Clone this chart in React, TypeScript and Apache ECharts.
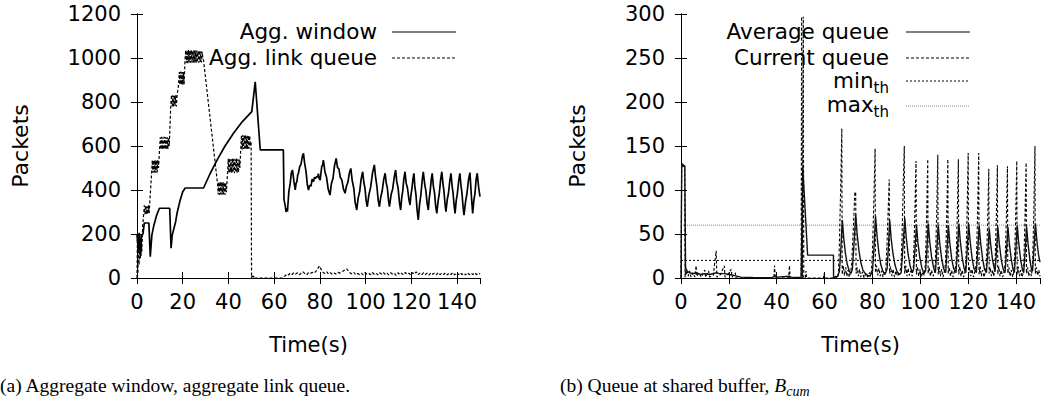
import React, { useEffect, useRef } from 'react';
import * as echarts from 'echarts';

// ---------- Data ----------
const xTicksMax = 150;
const leftYMax = 1200;
const rightYMax = 300;

// (a) Aggregate window, packets vs time (s)
const aggWindow: [number, number][] = [
  [0, 200], [0.6, 120], [1.0, 205], [1.6, 100], [2.0, 195], [2.6, 200], [3.2, 250], [5.2, 250], [5.8, 97],
  [6.5, 195], [7.4, 240], [8.6, 286], [9.8, 317], [14.3, 317], [14.9, 135], [15.4, 195], [16.9, 256],
  [17.5, 294], [18.9, 355], [20.0, 392], [21.1, 409], [29.1, 409], [32, 475], [35, 536], [38.5, 600],
  [42.2, 658], [46, 710], [50.2, 756], [51.7, 892], [53.9, 582], [64.0, 582], [64.3, 355], [64.8, 330],
  [65.2, 300], [65.5, 318], [65.8, 302], [66.4, 392], [67.0, 430], [67.5, 478], [68.0, 491], [68.6, 442],
  [69.2, 400], [69.6, 432], [69.9, 436], [70.3, 470], [70.6, 476], [71.2, 508], [71.7, 515], [72.3, 552],
  [72.8, 567], [73.3, 522], [73.9, 486], [74.5, 424], [75.0, 400], [75.5, 421], [76.1, 418], [76.6, 449],
  [77.2, 438], [77.6, 458], [78.0, 452], [78.6, 462], [79.0, 458], [79.3, 474], [79.7, 452], [80.1, 445],
  [80.8, 508], [81.2, 514], [81.5, 536], [82.2, 482], [82.9, 458], [83.6, 404], [84.4, 377], [85.0, 428],
  [85.7, 452], [86.4, 512], [87.1, 544], [87.7, 502], [88.3, 496], [88.9, 458], [89.6, 445], [90.3, 404],
  [91.0, 385], [91.6, 418], [92.2, 434], [92.9, 478], [93.5, 498], [94.1, 444], [94.8, 408], [95.4, 344],
  [96.1, 309], [96.7, 362], [97.4, 394], [98.0, 448], [98.7, 483], [99.2, 434], [99.7, 408], [100.2, 352],
  [100.7, 324], [101.4, 378], [102.2, 414], [103.0, 478], [103.8, 514], [104.3, 462], [104.9, 418],
  [105.5, 352], [106.0, 324], [106.6, 368], [107.2, 394], [107.9, 448], [108.5, 476], [109.0, 432],
  [109.5, 408], [110.0, 352], [110.4, 324], [111.1, 378], [111.8, 404], [112.5, 458], [113.1, 491],
  [113.6, 438], [114.2, 408], [114.8, 342], [115.3, 309], [115.8, 368], [116.2, 394], [116.7, 452],
  [117.2, 483], [117.7, 432], [118.3, 408], [118.9, 358], [119.4, 332], [119.8, 378], [120.2, 404],
  [120.7, 452], [121.1, 476], [121.5, 418], [122.0, 378], [122.5, 308], [123.0, 264], [123.6, 338],
  [124.1, 374], [124.7, 442], [125.2, 483], [125.8, 428], [126.3, 398], [126.9, 338], [127.4, 309],
  [127.8, 362], [128.2, 394], [128.7, 448], [129.1, 476], [129.6, 418], [130.1, 388], [130.6, 328],
  [131.1, 294], [131.7, 352], [132.2, 384], [132.8, 448], [133.3, 483], [133.8, 428], [134.2, 398],
  [134.7, 338], [135.1, 301], [135.7, 358], [136.2, 384], [136.8, 442], [137.3, 476], [137.8, 418],
  [138.2, 388], [138.7, 328], [139.1, 294], [139.6, 352], [140.1, 384], [140.7, 442], [141.2, 476],
  [141.7, 418], [142.1, 388], [142.6, 322], [143.0, 286], [143.7, 348], [144.3, 384], [145.0, 448],
  [145.6, 479], [146.2, 378], [146.8, 294], [147.3, 352], [147.8, 384], [148.3, 448], [148.8, 476],
  [149.4, 412], [150, 370],
];

// (a) Aggregate link queue, packets vs time (s)
const aggLinkQueue: [number, number][] = [
  [0, 0], [0.2, 190], [0.4, 20], [0.6, 200], [0.9, 60], [1.2, 195], [1.5, 90], [1.8, 180], [2.1, 120],
  [2.5, 240], [3.0, 300], [3.2, 330], [3.5, 290], [3.8, 330], [4.1, 290], [4.4, 325], [4.7, 290], [5.0, 330],
  [5.3, 295], [6.4, 480], [6.7, 536], [7.0, 478], [7.3, 535], [7.6, 480], [7.9, 536], [8.2, 478], [8.5, 535],
  [8.8, 480], [9.1, 536], [9.4, 500], [9.9, 590], [10.2, 640], [10.5, 584], [10.8, 642], [11.1, 585],
  [11.4, 640], [11.7, 584], [12.0, 642], [12.3, 585], [12.6, 640], [12.9, 584], [13.2, 640], [13.5, 586],
  [13.8, 638], [14.1, 600], [14.8, 790], [15.1, 832], [15.4, 780], [15.7, 830], [16.0, 780], [16.3, 832],
  [16.6, 782], [16.9, 830], [17.2, 780], [17.5, 828], [18.2, 880], [18.5, 936], [18.8, 878], [19.1, 938],
  [19.4, 880], [19.7, 936], [20.0, 878], [20.3, 936], [20.6, 880], [21.0, 990], [21.3, 1036], [21.6, 978],
  [21.9, 1034], [22.2, 976], [22.5, 1036], [22.8, 980], [23.1, 1034], [23.4, 978], [23.7, 1036], [24.0, 980],
  [24.3, 1032], [24.6, 978], [24.9, 1036], [25.2, 980], [25.5, 1034], [25.8, 978], [26.1, 1034], [26.4, 980],
  [26.7, 1030], [27.0, 978], [27.3, 1034], [27.6, 982], [27.9, 1030], [28.2, 980], [28.5, 1028], [28.8, 1000],
  [29.1, 990], [35.2, 430], [35.5, 380], [35.8, 436], [36.1, 378], [36.4, 438], [36.7, 380], [37.0, 436],
  [37.3, 378], [37.6, 436], [37.9, 380], [38.2, 434], [38.5, 378], [38.8, 430], [39.1, 390], [39.6, 480],
  [39.9, 542], [40.2, 478], [40.5, 544], [40.8, 480], [41.1, 540], [41.4, 478], [41.7, 544], [42.0, 480],
  [42.3, 542], [42.6, 476], [42.9, 540], [43.2, 480], [43.5, 544], [43.8, 478], [44.1, 540], [44.4, 480],
  [44.7, 538], [45.0, 500], [45.4, 590], [45.7, 648], [46.0, 584], [46.3, 650], [46.6, 586], [46.9, 648],
  [47.2, 584], [47.5, 650], [47.8, 586], [48.1, 646], [48.4, 584], [48.7, 648], [49.0, 588], [49.3, 646],
  [49.6, 600], [49.9, 620], [50.1, 0], [50.4, 15], [50.8, 4], [51.2, 10], [51.6, 0], [55, 0], [60, 0],
  [63.5, 0], [64.8, 10], [65.5, 18], [66.3, 14], [67.0, 22], [67.8, 16], [68.6, 25], [69.4, 18], [70.2, 24],
  [71.0, 15], [71.8, 22], [72.6, 28], [73.4, 20], [74.2, 14], [75.0, 24], [75.8, 20], [76.6, 26], [77.4, 22],
  [78.2, 30], [78.8, 38], [79.8, 55], [80.6, 38], [81.4, 25], [82.2, 20], [83.0, 28], [83.8, 18], [84.6, 24],
  [85.4, 16], [86.2, 22], [87.0, 18], [87.8, 26], [88.6, 22], [89.4, 28], [90.2, 32], [91.0, 38], [91.7, 42],
  [92.5, 30], [93.3, 22], [94.1, 18], [94.9, 25], [95.7, 14], [96.5, 20], [97.3, 16], [98.1, 22], [98.9, 14],
  [99.7, 24], [100.5, 18], [101.3, 22], [102.1, 15], [102.9, 25], [103.7, 17], [104.5, 22], [105.3, 14],
  [106.1, 24], [106.9, 18], [107.7, 26], [108.5, 16], [109.3, 22], [110.1, 14], [110.9, 24], [111.7, 18],
  [112.5, 22], [113.3, 12], [114.1, 24], [114.9, 16], [115.7, 22], [116.5, 14], [117.3, 25], [118.1, 17],
  [118.9, 22], [119.7, 13], [120.5, 24], [121.3, 18], [122.1, 28], [122.9, 15], [123.7, 22], [124.5, 14],
  [125.3, 24], [126.1, 16], [126.9, 22], [127.7, 13], [128.5, 24], [129.3, 17], [130.1, 22], [130.9, 14],
  [131.7, 24], [132.5, 15], [133.3, 22], [134.1, 16], [134.9, 24], [135.7, 14], [136.5, 22], [137.3, 16],
  [138.1, 25], [138.9, 14], [139.7, 22], [140.5, 15], [141.3, 24], [142.1, 16], [142.9, 22], [143.7, 14],
  [144.5, 24], [145.3, 15], [146.1, 22], [146.9, 16], [147.7, 24], [148.5, 15], [149.3, 22], [150, 18],
];

// (b) Average queue at shared buffer
const averageQueue: [number, number][] = [
  [0, 0], [0.3, 130], [1.6, 127], [1.9, 12], [2.5, 8], [3.5, 6], [5, 5], [6.5, 6], [8, 4], [10, 5], [12, 4],
  [14.8, 6], [16, 5], [18.2, 5], [20, 4], [22, 3], [25, 1], [30, 0.5], [38, 0.3], [39.2, 2], [40, 1],
  [45.4, 2], [46, 1], [49, 0.5], [50.2, 0.5], [50.9, 125], [52.9, 26], [63.7, 26], [63.75, 0], [64.5, 1],
  [65.5, 2], [66.2, 8], [66.7, 28], [67.4, 66], [68.0, 45], [68.7, 28], [69.5, 15], [70.3, 8], [71.0, 5],
  [71.6, 10], [72.2, 35], [73.0, 72], [73.6, 50], [74.4, 30], [75.2, 17], [76.0, 9], [77.0, 5], [78.0, 3],
  [79.0, 2], [80.0, 8], [80.6, 32], [81.3, 70], [81.9, 48], [82.7, 28], [83.5, 15], [84.3, 8], [85.2, 4],
  [86.1, 10], [86.6, 32], [87.2, 66], [87.8, 45], [88.6, 27], [89.4, 15], [90.3, 7], [91.3, 4], [92.0, 6],
  [92.6, 30], [93.5, 68], [94.1, 46], [94.9, 27], [95.7, 14], [96.6, 6], [97.2, 10], [97.7, 30], [98.4, 60],
  [99.0, 40], [99.8, 23], [100.6, 12], [101.5, 5], [102.2, 8], [102.7, 30], [103.3, 62], [103.9, 42],
  [104.7, 24], [105.5, 12], [106.3, 6], [106.8, 28], [107.5, 60], [108.1, 40], [108.9, 22], [109.7, 11],
  [110.6, 6], [111.0, 25], [111.7, 60], [112.3, 40], [113.1, 22], [113.9, 11], [114.9, 6], [115.4, 27],
  [116.1, 62], [116.7, 42], [117.5, 23], [118.3, 11], [119.0, 6], [119.5, 28], [120.2, 62], [120.8, 42],
  [121.6, 23], [122.4, 11], [123.4, 6], [123.9, 28], [124.6, 60], [125.2, 40], [126.0, 22], [126.8, 10],
  [127.6, 6], [128.1, 25], [128.8, 56], [129.4, 38], [130.2, 20], [131.2, 7], [131.7, 25], [132.4, 58],
  [133.0, 39], [133.8, 21], [134.6, 10], [135.4, 6], [135.9, 26], [136.6, 58], [137.2, 39], [138.0, 21],
  [138.8, 9], [139.3, 6], [139.8, 27], [140.5, 60], [141.1, 40], [141.9, 21], [142.7, 9], [143.2, 6],
  [143.7, 26], [144.4, 58], [145.0, 39], [145.8, 20], [146.5, 9], [146.9, 8], [147.4, 30], [148.1, 62],
  [148.7, 42], [149.4, 26], [150, 18],
];

// (b) Current queue at shared buffer
const currentQueue: [number, number][] = [
  [0, 0], [0.3, 128], [0.6, 130], [1.0, 125], [1.5, 128], [1.7, 0], [1.8, 24], [2.0, 3], [2.5, 9], [3.0, 2],
  [3.6, 8], [4.2, 1], [5.0, 6], [5.8, 1], [6.3, 14], [6.6, 2], [7.5, 6], [8.5, 1], [9.9, 9], [10.3, 1],
  [11.5, 8], [12.0, 1], [13.5, 3], [14.7, 31], [15.0, 1], [16.5, 4], [18.1, 14], [18.4, 1], [19.5, 4],
  [21.0, 10], [21.3, 1], [22.7, 6], [23.0, 0], [30, 0], [38.8, 0], [39.1, 14], [39.4, 0], [45.0, 0],
  [45.3, 14], [45.6, 0], [50.2, 0], [50.4, 297], [50.7, 0], [51.1, 297], [51.3, 0], [52.0, 0], [52.2, 8],
  [52.5, 0], [59.5, 0], [59.8, 5], [60.1, 0], [63.7, 0], [64.5, 2], [65.3, 0], [65.8, 6], [66.2, 40],
  [66.7, 100], [67.2, 170], [67.35, 4], [67.8, 14], [68.3, 3], [68.8, 12], [69.3, 2], [69.8, 9], [70.3, 1],
  [70.8, 6], [71.3, 15], [71.8, 45], [72.3, 75], [72.6, 96], [72.8, 98], [73.0, 96], [73.15, 5], [73.6, 12],
  [74.1, 2], [74.6, 10], [75.1, 1], [75.8, 7], [76.5, 0], [77.2, 5], [78.0, 1], [78.8, 6], [79.5, 4],
  [80.0, 30], [80.6, 90], [81.1, 147], [81.25, 6], [81.7, 14], [82.2, 3], [82.7, 11], [83.2, 2], [83.8, 8],
  [84.4, 1], [85.0, 6], [85.6, 10], [86.1, 40], [86.6, 80], [87.0, 112], [87.15, 5], [87.6, 13], [88.1, 2],
  [88.6, 10], [89.2, 1], [89.8, 8], [90.5, 2], [91.3, 6], [91.9, 12], [92.4, 50], [92.9, 110], [93.3, 150],
  [93.45, 5], [93.9, 14], [94.4, 2], [94.9, 11], [95.4, 3], [96.0, 8], [96.6, 2], [97.1, 14], [97.6, 60],
  [98.2, 133], [98.35, 4], [98.8, 13], [99.3, 2], [99.8, 10], [100.4, 1], [101.0, 7], [101.6, 3], [102.1, 15],
  [102.6, 65], [103.1, 135], [103.25, 5], [103.7, 12], [104.2, 2], [104.7, 9], [105.3, 2], [105.9, 6],
  [106.3, 18], [106.8, 70], [107.3, 140], [107.45, 4], [107.9, 13], [108.4, 2], [108.9, 10], [109.5, 1],
  [110.0, 7], [110.5, 16], [111.0, 66], [111.5, 135], [111.65, 5], [112.1, 12], [112.6, 2], [113.1, 9],
  [113.7, 1], [114.3, 8], [114.9, 15], [115.4, 66], [115.9, 135], [116.05, 4], [116.5, 13], [117.0, 2],
  [117.5, 9], [118.1, 1], [118.7, 7], [119.0, 16], [119.5, 70], [120.0, 142], [120.15, 5], [120.6, 12],
  [121.1, 2], [121.6, 10], [122.2, 1], [122.8, 7], [123.4, 16], [123.9, 70], [124.4, 142], [124.55, 4],
  [125.0, 13], [125.5, 2], [126.0, 9], [126.6, 1], [127.2, 7], [127.6, 15], [128.1, 60], [128.6, 124],
  [128.75, 5], [129.2, 12], [129.7, 2], [130.2, 9], [130.7, 2], [131.2, 14], [131.7, 62], [132.2, 128],
  [132.35, 4], [132.8, 13], [133.3, 2], [133.8, 9], [134.4, 1], [135.0, 7], [135.4, 15], [135.9, 62],
  [136.4, 127], [136.55, 5], [137.0, 12], [137.5, 2], [138.0, 9], [138.6, 1], [139.0, 7], [139.3, 15],
  [139.8, 64], [140.3, 133], [140.45, 4], [140.9, 13], [141.4, 2], [141.9, 9], [142.5, 1], [143.0, 6],
  [143.2, 15], [143.7, 64], [144.2, 131], [144.35, 5], [144.8, 12], [145.3, 2], [145.8, 9], [146.4, 2],
  [146.9, 15], [147.4, 72], [147.9, 150], [148.05, 5], [148.5, 12], [149.0, 3], [149.5, 9], [150, 2],
];

const minTh = 20;
const maxTh = 60;

// ---------- Styling ----------
const FONT = 'DejaVu Sans';
const SERIF = 'Liberation Serif';
const FS = 21;
const LFS = 21.5;
const CAP = 19.5;

const frameLine = { show: true, lineStyle: { color: '#000', width: 1 } };
const tick = { show: true, inside: true, length: 6, lineStyle: { color: '#000', width: 1 } };
const plain = (v: number) => String(v);

function xAxes(gridIndex: number) {
  return [
    {
      type: 'value', gridIndex, position: 'bottom', min: 0, max: xTicksMax, interval: 20,
      axisLine: frameLine, axisTick: tick, splitLine: { show: false },
      axisLabel: { show: true, fontFamily: FONT, fontSize: FS, color: '#000', margin: 13, showMaxLabel: false, formatter: plain },
      name: 'Time(s)', nameLocation: 'middle', nameGap: 56,
      nameTextStyle: { fontFamily: FONT, fontSize: FS, color: '#000' },
    },
    {
      type: 'value', gridIndex, position: 'top', min: 0, max: xTicksMax, interval: 20,
      axisLine: frameLine, axisTick: tick, splitLine: { show: false }, axisLabel: { show: false },
    },
  ];
}

function yAxes(gridIndex: number, max: number, interval: number) {
  return [
    {
      type: 'value', gridIndex, position: 'left', min: 0, max, interval,
      axisLine: frameLine, axisTick: tick, splitLine: { show: false },
      axisLabel: { show: true, fontFamily: FONT, fontSize: FS, color: '#000', margin: 16, formatter: plain },
      name: 'Packets', nameLocation: 'middle', nameGap: gridIndex === 0 ? 106 : 93,
      nameTextStyle: { fontFamily: FONT, fontSize: 22, color: '#000' },
    },
    {
      type: 'value', gridIndex, position: 'right', min: 0, max, interval,
      axisLine: frameLine, axisTick: tick, splitLine: { show: false }, axisLabel: { show: false },
    },
  ];
}

function lineSeries(name: string, data: [number, number][], axis: number, style: any) {
  return {
    name, type: 'line', data, xAxisIndex: axis, yAxisIndex: axis,
    showSymbol: false, symbol: 'none', smooth: false, clip: true,
    lineStyle: style, silent: true,
  };
}

function legendText(x: number, y: number, text: string) {
  return {
    type: 'text', x, y, silent: true,
    style: { text, fontFamily: FONT, fontSize: LFS, fill: '#000', align: 'right', verticalAlign: 'middle' },
  };
}

function legendSubText(x: number, y: number, main: string, sub: string) {
  return {
    type: 'text', x, y, silent: true,
    style: {
      text: `{a|${main}}{b|${sub}}`, align: 'right', verticalAlign: 'middle', fill: '#000',
      rich: {
        a: { fontFamily: FONT, fontSize: LFS, lineHeight: 30, fill: '#000' },
        b: { fontFamily: FONT, fontSize: 15, lineHeight: 15, verticalAlign: 'bottom', fill: '#000' },
      },
    },
  };
}

function legendLine(x1: number, x2: number, y: number, stroke: string, dash: number[] | null, w = 1) {
  return {
    type: 'line', silent: true,
    shape: { x1, y1: y, x2, y2: y },
    style: { stroke, lineWidth: w, lineDash: dash || undefined },
  };
}

export default function App() {
  const ref = useRef<HTMLDivElement>(null);

  useEffect(() => {
    if (!ref.current) return;
    const chart = echarts.init(ref.current, null, { renderer: 'svg' });
    const option: any = {
      animation: false,
      backgroundColor: '#fff',
      textStyle: { fontFamily: FONT, color: '#000' },
      grid: [
        { left: 137, top: 14, width: 343, height: 264 },
        { left: 681, top: 14, width: 359, height: 264 },
      ],
      xAxis: [...xAxes(0), ...xAxes(1)],
      yAxis: [...yAxes(0, leftYMax, 200), ...yAxes(1, rightYMax, 50)],
      series: [
        lineSeries('Agg. window', aggWindow, 0, { color: '#000', width: 1.7 }),
        lineSeries('Agg. link queue', aggLinkQueue, 0, { color: '#000', width: 1.2, type: [3, 2] }),
        lineSeries('min_th', [[0, minTh], [xTicksMax, minTh]], 2, { color: '#000', width: 1, type: [2, 2] }),
        lineSeries('max_th', [[0, maxTh], [xTicksMax, maxTh]], 2, { color: '#888', width: 1, type: [1, 1] }),
        lineSeries('Current queue', currentQueue, 2, { color: '#000', width: 1.1, type: [3, 2] }),
        lineSeries('Average queue', averageQueue, 2, { color: '#111', width: 1.4 }),
      ],
      graphic: [
        legendText(377, 31, 'Agg. window'),
        legendLine(392, 456, 32, '#000', null, 1.2),
        legendText(377, 57, 'Agg. link queue'),
        legendLine(392, 456, 58, '#000', [3, 2]),

        legendText(889, 31, 'Average queue'),
        legendLine(906, 970, 32, '#000', null, 1.2),
        legendText(889, 57, 'Current queue'),
        legendLine(906, 970, 58, '#000', [3, 2]),
        legendSubText(889, 80, 'min', 'th'),
        legendLine(906, 970, 81, '#000', [2, 2]),
        legendSubText(889, 104, 'max', 'th'),
        legendLine(906, 970, 106, '#888', [1, 1]),

        {
          type: 'text', x: 0, y: 385, silent: true,
          style: {
            text: '(a) Aggregate window, aggregate link queue.', fontFamily: SERIF, fontSize: CAP,
            fill: '#000', align: 'left', verticalAlign: 'middle',
          },
        },
        {
          type: 'text', x: 560, y: 385, silent: true,
          style: {
            text: '{r|(b) Queue at shared buffer, }{i|B}{s|cum}', align: 'left', verticalAlign: 'middle',
            rich: {
              r: { fontFamily: SERIF, fontSize: CAP, lineHeight: 27, fill: '#000' },
              i: { fontFamily: SERIF, fontSize: CAP, lineHeight: 27, fontStyle: 'italic', fill: '#000' },
              s: { fontFamily: SERIF, fontSize: 14, lineHeight: 14, fontStyle: 'italic', verticalAlign: 'bottom', fill: '#000' },
            },
          },
        },
      ],
    };
    chart.setOption(option);
    return () => chart.dispose();
  }, []);

  return (
    <div
      ref={ref}
      style={{ position: 'absolute', left: 0, top: 0, width: 1047, height: 403, background: '#fff' }}
    />
  );
}
